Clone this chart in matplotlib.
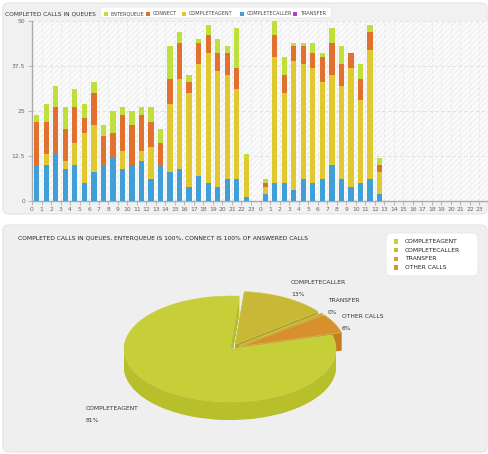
import matplotlib
matplotlib.use("Agg")
import matplotlib.pyplot as plt
from matplotlib.patches import FancyBboxPatch, Rectangle
import numpy as np

# ---------------- data ----------------
hours = list(range(24)) + list(range(24))
completecaller = [10, 10, 13, 9, 10, 5, 8, 10, 12, 9, 10, 11, 6, 10, 8, 9, 4, 7, 5, 4, 6, 6, 1, 0,
                  2, 5, 5, 3, 6, 5, 6, 10, 6, 4, 5, 6, 2, 0, 0, 0, 0, 0, 0, 0, 0, 0, 0, 0]
completeagent = [0, 3, 0, 2, 6, 14, 13, 0, 0, 5, 0, 3, 9, 0, 19, 25, 26, 31, 36, 32, 29, 25, 11, 0,
                 2, 35, 25, 36, 32, 32, 27, 25, 26, 33, 23, 36, 6, 0, 0, 0, 0, 0, 0, 0, 0, 0, 0, 0]
connect = [12, 9, 13, 9, 10, 4, 9, 8, 7, 10, 11, 10, 7, 6, 7, 10, 3, 6, 5, 5, 6, 6, 0, 0,
           1, 6, 5, 4, 5, 4, 7, 9, 6, 4, 6, 5, 2, 0, 0, 0, 0, 0, 0, 0, 0, 0, 0, 0]
enterqueue = [2, 5, 6, 6, 5, 4, 3, 3, 6, 2, 4, 2, 4, 4, 9, 3, 2, 1, 3, 4, 2, 11, 1, 0,
              1, 4, 5, 1, 1, 3, 1, 4, 5, 0, 4, 2, 2, 0, 0, 0, 0, 0, 0, 0, 0, 0, 0, 0]
transfer = [0] * 48
y_ticks = [0, 12.5, 25, 37.5, 50]
y_tick_labels = ["0", "12.5", "25", "37.5", "50"]

pie_labels = ["COMPLETECALLER", "TRANSFER", "OTHER CALLS", "COMPLETEAGENT"]
pie_values = [13, 0.4, 6, 81]
pie_pct_text = ["13%", "0%", "6%", "81%"]
legend_pie_order = ["COMPLETEAGENT", "COMPLETECALLER", "TRANSFER", "OTHER CALLS"]

# ---------------- figure ----------------
W, H = 489, 454
fig = plt.figure(figsize=(W / 100, H / 100), dpi=100)
fig.patch.set_facecolor("white")
FONT = "DejaVu Sans"


def fx(x):
    return x / W


def fy(y):
    return 1 - y / H


# panels
fig.patches.append(FancyBboxPatch((fx(3), fy(214)), fx(484), 211 / H,
                                  boxstyle="round,pad=0,rounding_size=0.012",
                                  transform=fig.transFigure, fc="#f1f1f1", ec="#e4e4e4", lw=0.8, zorder=-5))
fig.patches.append(FancyBboxPatch((fx(3), fy(452)), fx(484), 227 / H,
                                  boxstyle="round,pad=0,rounding_size=0.012",
                                  transform=fig.transFigure, fc="#efefef", ec="#e4e4e4", lw=0.8, zorder=-5))

# ---------------- top: stacked bars ----------------
ax = fig.add_axes([fx(32), fy(201), fx(489 - 32), 180 / H])
ax.set_facecolor("#fbfbfb")
ax.add_patch(Rectangle((0, 0), 48, 50, facecolor="none", edgecolor="#f1f1f1",
                       hatch="//////", lw=0, zorder=0))
x = np.arange(48) + 0.5
series = [
    ("COMPLETECALLER", completecaller, "#3f9fd6"),
    ("COMPLETEAGENT", completeagent, "#e0c92e"),
    ("CONNECT", connect, "#e2702f"),
    ("ENTERQUEUE", enterqueue, "#bfe03c"),
    ("TRANSFER", transfer, "#b03cd6"),
]
bottom = np.zeros(48)
for name, vals, col in series:
    v = np.array(vals, dtype=float)
    ax.bar(x, v, width=0.55, bottom=bottom, color=col, edgecolor="none", zorder=3)
    bottom += v

ax.set_xlim(0, 48)
ax.set_ylim(0, 50)
ax.set_yticks(y_ticks)
ax.set_yticklabels(y_tick_labels, fontsize=4.3, color="#666666", family=FONT)
ax.set_xticks(np.arange(48))
ax.set_xticklabels([str(h) for h in hours], fontsize=4.3, color="#666666", family=FONT)
ax.tick_params(axis="x", length=3, color="#bbbbbb", pad=1.5)
ax.tick_params(axis="y", length=3, color="#bbbbbb", pad=2)
for yv in y_ticks[1:]:
    ax.axhline(yv, color="#dddddd", lw=0.6, ls=(0, (4, 3)), zorder=1)
for xv in range(1, 48):
    ax.axvline(xv, color="#e8e8e8", lw=0.6, ls=(0, (4, 3)), zorder=1)
for s in ["top", "right"]:
    ax.spines[s].set_visible(False)
for s in ["left", "bottom"]:
    ax.spines[s].set_color("#aaaaaa")
    ax.spines[s].set_linewidth(1)

fig.text(fx(5), fy(14), "COMPLETED CALLS IN QUEUES", fontsize=4.2, color="#333333",
         family=FONT, va="center", ha="left")

# top legend
fig.patches.append(FancyBboxPatch((fx(100), fy(18)), fx(232), 11 / H,
                                  boxstyle="round,pad=0,rounding_size=0.01",
                                  transform=fig.transFigure, fc="white", ec="#e6e6e6", lw=0.6, zorder=1))
leg_items = [("ENTERQUEUE", "#bfe03c", 104), ("CONNECT", "#e2702f", 146),
             ("COMPLETEAGENT", "#e0c92e", 182), ("COMPLETECALLER", "#3f9fd6", 240),
             ("TRANSFER", "#b03cd6", 293)]
for name, col, px in leg_items:
    fig.patches.append(Rectangle((fx(px), fy(15.5)), fx(4), 4 / H, transform=fig.transFigure,
                                 fc=col, ec="none", zorder=2))
    fig.text(fx(px + 7), fy(13.5), name, fontsize=3.6, color="#444444", family=FONT,
             va="center", ha="left", zorder=3)

# ---------------- bottom: 3D-style pie ----------------
fig.text(fx(18), fy(238), "COMPLETED CALLS IN QUEUES, ENTERQUEUE IS 100%, CONNECT IS 100% OF ANSWERED CALLS",
         fontsize=4.3, color="#222222", family=FONT, va="center", ha="left")

pax = fig.add_axes([fx(100), fy(430), fx(260), 150 / H])
pax.set_facecolor("none")
top_colors = ["#c9b835", "#d4a22f", "#d8902c", "#c6ce38"]
side_colors = ["#b3a329", "#bd8e25", "#c27c22", "#b7bf2b"]
explode = [0.1, 0.1, 0.1, 0.0]
depth = 0.34
n_layers = 40
for k in range(n_layers):
    off = -depth + depth * k / n_layers
    pax.pie(pie_values, colors=side_colors, startangle=85, counterclock=False,
            explode=explode, center=(0, off), radius=1.0,
            wedgeprops=dict(linewidth=0))
pax.pie(pie_values, colors=top_colors, startangle=85, counterclock=False,
        explode=explode, center=(0, 0), radius=1.0,
        wedgeprops=dict(linewidth=0.4, edgecolor="#d0d060"))
pax.set_aspect("auto")
pax.set_xlim(-130 / 106, 130 / 106)
pax.set_ylim(-81 / 53, 69 / 53)
pax.axis("off")

# slice labels
label_pos = {"COMPLETECALLER": (291, 282), "TRANSFER": (328, 300),
             "OTHER CALLS": (342, 316), "COMPLETEAGENT": (86, 408)}
for name, pct in zip(pie_labels, pie_pct_text):
    lx, ly = label_pos[name]
    fig.text(fx(lx), fy(ly), name, fontsize=4.3, color="#333333", family=FONT, va="center", ha="left")
    fig.text(fx(lx), fy(ly + 12), pct, fontsize=4.3, color="#333333", family=FONT, va="center", ha="left")

# pie legend
fig.patches.append(FancyBboxPatch((fx(386), fy(276)), fx(92), 43 / H,
                                  boxstyle="round,pad=0,rounding_size=0.012",
                                  transform=fig.transFigure, fc="white", ec="#e6e6e6", lw=0.6, zorder=1))
color_of = dict(zip(pie_labels, top_colors))
for i, name in enumerate(legend_pie_order):
    yy = 241.5 + i * 8.7
    fig.patches.append(Rectangle((fx(394), fy(yy + 2.2)), fx(4.5), 4.5 / H, transform=fig.transFigure,
                                 fc=color_of[name], ec="none", zorder=2))
    fig.text(fx(405), fy(yy), name, fontsize=4.3, color="#222222", family=FONT,
             va="center", ha="left", zorder=3)

fig.savefig("out.png", dpi=100)
